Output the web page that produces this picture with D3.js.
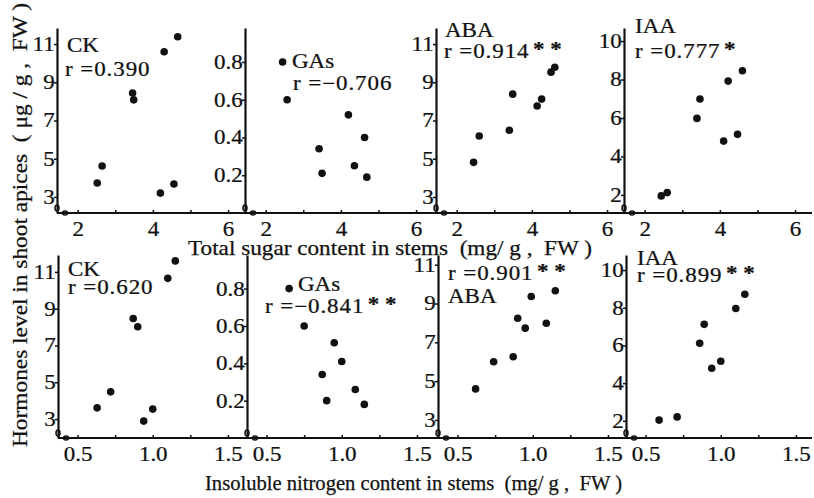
<!DOCTYPE html>
<html>
<head>
<meta charset="utf-8">
<script src="https://d3js.org/d3.v7.min.js"></script>
<style>
  html, body { margin: 0; padding: 0; background: #fff; }
  svg { display: block; }
  text { font-family: "Liberation Serif", "Times New Roman", serif; fill: #111; stroke: #111; stroke-width: 0.25; }
</style>
</head>
<body>
<svg id="chart" width="814" height="498"></svg>
<script>
// ── Data: hormone levels vs. stem content (8 treatments per panel) ──
const sugarCK  = [2.52, 2.65, 3.46, 3.49, 4.20, 4.30, 4.56, 4.66];
const ckSugar  = [3.73, 4.62, 8.44, 8.08, 3.20, 10.60, 3.68, 11.38];
const sugarGA  = [2.45, 2.57, 3.42, 3.50, 4.20, 4.36, 4.63, 4.69];
const gaSugar  = [0.80, 0.60, 0.34, 0.21, 0.52, 0.25, 0.40, 0.19];
const sugarABA = [2.45, 2.60, 3.40, 3.49, 4.14, 4.26, 4.51, 4.61];
const abaSugar = [4.81, 6.19, 6.49, 8.38, 7.76, 8.12, 9.53, 9.79];
const sugarIAA = [2.44, 2.60, 3.39, 3.47, 4.10, 4.22, 4.47, 4.60];
const iaaSugar = [1.95, 2.12, 5.98, 6.99, 4.80, 7.92, 5.15, 8.46];

const nitroCK  = [0.63, 0.72, 0.87, 0.90, 0.94, 1.00, 1.10, 1.15];
const ckNitro  = [3.61, 4.48, 8.47, 8.02, 2.89, 3.54, 10.65, 11.60];
const nitroGA  = [0.65, 0.75, 0.87, 0.90, 0.95, 1.00, 1.09, 1.15];
const gaNitro  = [0.80, 0.60, 0.34, 0.20, 0.51, 0.41, 0.26, 0.18];
const nitroABA = [0.62, 0.74, 0.87, 0.90, 0.95, 0.99, 1.09, 1.15];
const abaNitro = [4.60, 6.00, 6.26, 8.24, 7.73, 9.36, 7.98, 9.66];
const nitroIAA = [0.59, 0.71, 0.86, 0.89, 0.94, 1.00, 1.10, 1.16];
const iaaNitro = [2.04, 2.21, 6.12, 7.12, 4.79, 5.16, 7.96, 8.72];

// tick values
const sugarTicks = [2, 3, 4, 5, 6];
const sugarLabels = [2, 4, 6];
const nitroTicks = [0.5, 0.75, 1.0, 1.25, 1.5];
const nitroLabels = [0.5, 1.0, 1.5];
const ckTicks = [3, 5, 7, 9, 11];
const gaTicks = [0.2, 0.4, 0.6, 0.8];
const iaaTicks = [2, 4, 6, 8, 10];

const rTop = ['0.390', '−0.706', '0.914', '0.777'];
const rBot = ['0.620', '−0.841', '0.901', '0.899'];
const sigTop = ['', '', '**', '*'];
const sigBot = ['', '**', '**', '**'];

// ── Layout ──
const SX = 1.15;            // scanned type is wider than Times
const FS = 20;
const PW = 188;             // panel width
const rows = [
  { top: 28, bottom: 213, lefts: [57, 245, 436, 624], xDomain: [1.45, 6.45], ticks: sugarTicks, labels: sugarLabels, fmt: d3.format('d'),
    panels: [
      { name: 'CK',  x: sugarCK,  y: ckSugar,  yd: [2.16, 11.84], yt: ckTicks,  yf: 'd',   r: rTop[0], s: sigTop[0], nm: [10, 52], rp: [8, 76] },
      { name: 'GAs', x: sugarGA,  y: gaSugar,  yd: [0, 0.98],     yt: gaTicks,  yf: '.1f', r: rTop[1], s: sigTop[1], nm: [47, 68], rp: [48, 90] },
      { name: 'ABA', x: sugarABA, y: abaSugar, yd: [2.16, 11.84], yt: ckTicks,  yf: 'd',   r: rTop[2], s: sigTop[2], nm: [9, 37],  rp: [8, 58] },
      { name: 'IAA', x: sugarIAA, y: iaaSugar, yd: [1.06, 10.68], yt: iaaTicks, yf: 'd',   r: rTop[3], s: sigTop[3], nm: [11, 33], rp: [11, 58] },
    ] },
  { top: 255, bottom: 438, lefts: [58, 247, 438, 626], xDomain: [0.37, 1.62], ticks: nitroTicks, labels: nitroLabels, fmt: d3.format('.1f'),
    panels: [
      { name: 'CK',  x: nitroCK,  y: ckNitro,  yd: [1.97, 11.92], yt: ckTicks,  yf: 'd',   r: rBot[0], s: sigBot[0], nm: [10, 276], rp: [10, 294] },
      { name: 'GAs', x: nitroGA,  y: gaNitro,  yd: [0, 0.98],     yt: gaTicks,  yf: '.1f', r: rBot[1], s: sigBot[1], nm: [51, 291], rp: [18, 313] },
      { name: 'ABA', x: nitroABA, y: abaNitro, yd: [2.07, 11.5],  yt: ckTicks,  yf: 'd',   r: rBot[2], s: sigBot[2], nm: [10, 303], rp: [10, 280] },
      { name: 'IAA', x: nitroIAA, y: iaaNitro, yd: [1.09, 10.8],  yt: iaaTicks, yf: 'd',   r: rBot[3], s: sigBot[3], nm: [11, 265], rp: [11, 282] },
    ] },
];

const svg = d3.select('#chart');
svg.append('rect').attr('width', 814).attr('height', 498).attr('fill', '#fff');

function txt(sel, x, y, s, anchor) {
  return sel.append('text')
    .attr('transform', `translate(${x},${y}) scale(${SX},1)`)
    .attr('text-anchor', anchor || 'start')
    .attr('font-size', FS)
    .text(s);
}

rows.forEach(row => {
  row.panels.forEach((p, i) => {
    const left = row.lefts[i];
    const right = i < 3 ? row.lefts[i + 1] : 812;
    const x = d3.scaleLinear().domain(row.xDomain).range([left, left + PW]);
    const y = d3.scaleLinear().domain(p.yd).range([row.bottom, row.top]);
    const g = svg.append('g');

    // x axis: line runs on to the next panel's y axis
    const xa = g.append('g').attr('transform', `translate(0,${row.bottom})`)
      .call(d3.axisBottom(x)
        .tickValues(row.ticks)
        .tickFormat(d => row.labels.some(l => Math.abs(l - d) < 1e-6) ? row.fmt(d) : '')
        .tickSize(-3).tickSizeOuter(0).tickPadding(9));
    xa.select('.domain').attr('d', `M${left},0H${right}`).attr('stroke', '#111').attr('stroke-width', 2.2);
    xa.selectAll('.tick line').attr('stroke', '#111').attr('stroke-width', 1.5);
    xa.selectAll('.tick text')
      .attr('font-size', FS).attr('fill', '#111')
      .attr('transform', `scale(${SX},1)`);

    // y axis
    const ya = g.append('g').attr('transform', `translate(${left},0)`)
      .call(d3.axisLeft(y).tickValues(p.yt).tickFormat(d3.format(p.yf))
        .tickSize(3).tickSizeOuter(0).tickPadding(-1));
    ya.select('.domain').attr('stroke', '#111').attr('stroke-width', 2.2);
    ya.selectAll('.tick line').attr('stroke', '#111').attr('stroke-width', 1.5);
    ya.selectAll('.tick text')
      .attr('font-size', FS).attr('fill', '#111')
      .attr('transform', `scale(${SX},1)`);

    // axis break marks near origin
    g.append('ellipse').attr('cx', left).attr('cy', row.bottom - 5).attr('rx', 2).attr('ry', 3)
      .attr('fill', 'none').attr('stroke', '#111').attr('stroke-width', 1.5);
    g.append('ellipse').attr('cx', left + 8).attr('cy', row.bottom).attr('rx', 2.5).attr('ry', 2)
      .attr('fill', 'none').attr('stroke', '#111').attr('stroke-width', 1.5);

    // points
    g.selectAll('circle.pt').data(d3.range(p.x.length)).enter().append('circle')
      .attr('class', 'pt')
      .attr('cx', k => x(p.x[k])).attr('cy', k => y(p.y[k]))
      .attr('r', 3.8).attr('fill', '#111');

    // hormone name + correlation
    txt(g, left + p.nm[0], p.nm[1], p.name);
    const rt = txt(g, left + p.rp[0], p.rp[1], '').attr('letter-spacing', 0.8);
    rt.append('tspan').text('r =' + p.r);
    if (p.s) rt.append('tspan').attr('dx', 3).attr('dy', -2).attr('font-weight', 'bold')
      .attr('letter-spacing', 5).text(p.s);
  });
});

// ── Axis titles ──
svg.append('text').attr('x', 188).attr('y', 255).attr('font-size', FS + 1)
  .attr('textLength', 404).attr('lengthAdjust', 'spacingAndGlyphs')
  .style('white-space', 'pre')
  .text('Total sugar content in stems  (mg/ g ,  FW )');

svg.append('text').attr('x', 205).attr('y', 490).attr('font-size', FS + 1)
  .attr('textLength', 417).attr('lengthAdjust', 'spacingAndGlyphs')
  .style('white-space', 'pre')
  .text('Insoluble nitrogen content in stems  (mg/ g ,  FW )');

svg.append('text').attr('transform', 'translate(27,447) rotate(-90)')
  .attr('font-size', FS + 1)
  .attr('textLength', 444).attr('lengthAdjust', 'spacingAndGlyphs')
  .style('white-space', 'pre')
  .text('Hormones level in shoot apices  ( μg / g ,  FW )');
</script>
</body>
</html>
